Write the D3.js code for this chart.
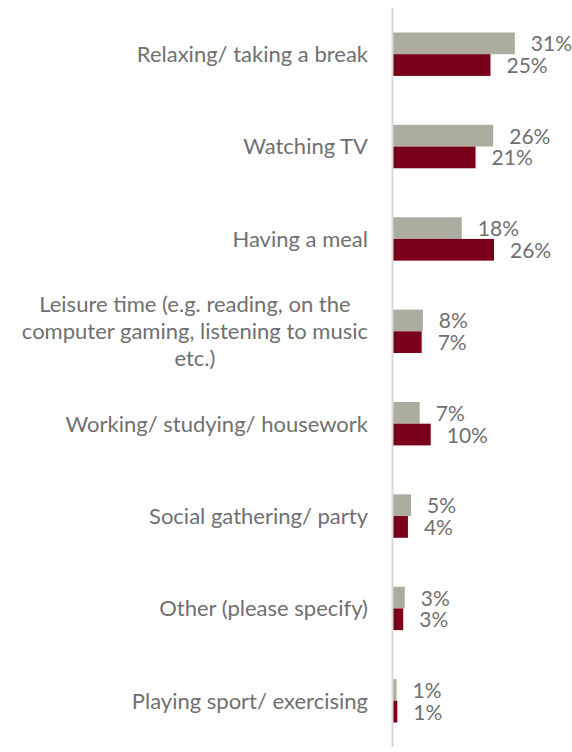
<!DOCTYPE html>
<html>
<head>
<meta charset="utf-8">
<script src="https://cdn.jsdelivr.net/npm/d3@7"></script>
<style>
  html, body { margin: 0; padding: 0; background: #ffffff; }
  svg { display: block; }
</style>
</head>
<body>
<svg id="chart" width="572" height="752"></svg>
<script>
// ---- data ----
const categories = [
  "Relaxing/ taking a break",
  "Watching TV",
  "Having a meal",
  "Leisure time (e.g. reading, on the computer gaming, listening to music etc.)",
  "Working/ studying/ housework",
  "Social gathering/ party",
  "Other (please specify)",
  "Playing sport/ exercising"
];
const seriesNames = ["Series A", "Series B"];
const seriesA = [31.0, 25.5, 17.5, 7.6, 6.8, 4.6, 3.0, 0.9];
const seriesB = [24.8, 21.0, 25.7, 7.3, 9.6, 3.8, 2.6, 1.1];
const seriesColors = ["#ADAD9F", "#7A0019"];

// ---- layout ----
const svg = d3.select("#chart");
const x0 = 393;
const y = d3.scaleBand()
  .domain(categories)
  .range([8, 747])
  .paddingInner(0.53)
  .paddingOuter(0.265);
const ySub = d3.scaleBand()
  .domain(seriesNames)
  .range([0, y.bandwidth()]);
const x = d3.scaleLinear().domain([0, 45]).range([x0, x0 + 45 * 3.93]);

const rows = categories.map((c, i) => ({ cat: c, values: [seriesA[i], seriesB[i]] }));

const textColor = "#707070";
const font = "Lato, 'Open Sans', sans-serif";
const fontSize = 22;
const valueFontSize = 21;

// bars
const groups = svg.append("g").selectAll("g")
  .data(rows).join("g")
  .attr("transform", d => `translate(0,${y(d.cat)})`);

groups.selectAll("rect")
  .data(d => d.values.map((v, j) => ({ v, j })))
  .join("rect")
  .attr("x", x(0))
  .attr("y", d => ySub(seriesNames[d.j]))
  .attr("width", d => x(d.v) - x(0))
  .attr("height", ySub.bandwidth())
  .attr("fill", d => seriesColors[d.j]);

// value labels
groups.selectAll("text")
  .data(d => d.values.map((v, j) => ({ v, j })))
  .join("text")
  .attr("x", d => x(d.v) + 16)
  .attr("y", d => ySub(seriesNames[d.j]) + ySub.bandwidth() / 2)
  .attr("dy", "0.38em")
  .attr("font-family", font)
  .attr("font-size", valueFontSize)
  .attr("fill", textColor)
  .text(d => Math.round(d.v) + "%");

// axis (vertical line, no ticks)
const axis = d3.axisLeft(y).tickSize(0).tickFormat("");
const axisG = svg.append("g")
  .attr("transform", `translate(${x0 - 0.5},0)`)
  .call(axis);
axisG.select(".domain")
  .attr("d", `M0,8V747`)
  .attr("stroke", "#D9D9D9")
  .attr("stroke-width", 2);

// category labels with wrapping
const labelRight = 368;
const maxW = 372;
const labelG = svg.append("g");
categories.forEach(cat => {
  const cy = y(cat) + y.bandwidth() / 2;
  const t = labelG.append("text")
    .attr("font-family", font)
    .attr("font-size", fontSize)
    .attr("fill", textColor);
  const words = cat.split(" ");
  const lines = [];
  let line = [];
  const probe = t.append("tspan");
  words.forEach(w => {
    line.push(w);
    probe.text(line.join(" "));
    if (probe.node().getComputedTextLength() > maxW && line.length > 1) {
      line.pop();
      lines.push(line.join(" "));
      line = [w];
    }
  });
  lines.push(line.join(" "));
  probe.remove();
  const lh = 27;
  if (lines.length === 1) {
    t.attr("text-anchor", "end")
      .attr("x", labelRight)
      .attr("y", cy)
      .attr("dy", "0.36em")
      .text(lines[0]);
  } else {
    let widest = 0;
    lines.forEach(l => {
      const p = t.append("tspan").text(l);
      widest = Math.max(widest, p.node().getComputedTextLength());
      p.remove();
    });
    const cx = labelRight - widest / 2;
    t.attr("text-anchor", "middle");
    lines.forEach((l, k) => {
      t.append("tspan")
        .attr("x", cx)
        .attr("y", cy + (k - (lines.length - 1) / 2) * lh)
        .attr("dy", "0.36em")
        .text(l);
    });
  }
});
</script>
</body>
</html>
